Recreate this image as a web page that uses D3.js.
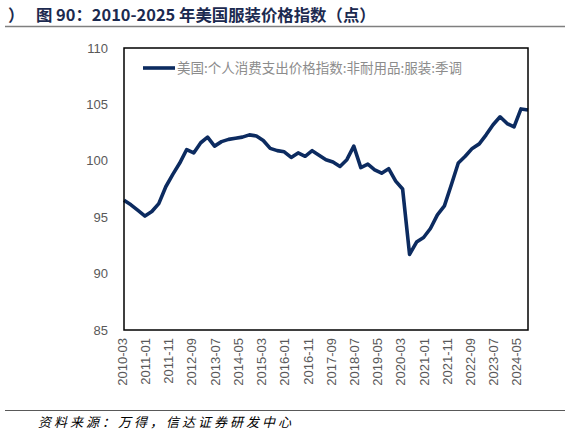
<!DOCTYPE html>
<html>
<head>
<meta charset="utf-8">
<script src="https://cdn.jsdelivr.net/npm/d3@7"></script>
<style>
  body { margin: 0; background: #fff; }
  svg { display: block; }
</style>
</head>
<body>
<div id="wrapper"></div>
<script>
// 1. data (quarterly)
const firstQuarter = "2010-03";
const lastQuarter = "2024-12";
const apparelIndex = [
  96.5, 96.1, 95.6, 95.1, 95.5, 96.2, 97.7, 98.8, 99.8, 101.0,
  100.7, 101.6, 102.1, 101.3, 101.7, 101.9, 102.0, 102.1, 102.3, 102.2,
  101.8, 101.1, 100.9, 100.8, 100.3, 100.7, 100.4, 100.9, 100.5, 100.1,
  99.9, 99.5, 100.1, 101.3, 99.4, 99.7, 99.2, 98.9, 99.3, 98.2,
  97.5, 91.7, 92.8, 93.2, 94.0, 95.2, 96.0, 97.9, 99.8, 100.4,
  101.1, 101.5, 102.3, 103.2, 103.9, 103.3, 103.0, 104.6, 104.5, 104.3
];
const xTickLabels = [
  "2010-03", "2011-01", "2011-11", "2012-09", "2013-07", "2014-05",
  "2015-03", "2016-01", "2016-11", "2017-09", "2018-07", "2019-05",
  "2020-03", "2021-01", "2021-11", "2022-09", "2023-07", "2024-05"
];
const yTicks = [85, 90, 95, 100, 105, 110];
const seriesName = "美国:个人消费支出价格指数:非耐用品:服装:季调";
const titleText = "图 90：2010-2025 年美国服装价格指数（点）";
const sourceText = "资料来源：万得，信达证券研发中心";

const parseMonth = d3.timeParse("%Y-%m");
const quarters = d3.timeMonth.every(3).range(parseMonth(firstQuarter), d3.timeMonth.offset(parseMonth(lastQuarter), 1));
const dataset = quarters.map((d, i) => ({ date: d, value: apparelIndex[i] }));

// 2. dimensions
const dimensions = {
  width: 570,
  height: 436,
  margin: { top: 48, right: 42, bottom: 106, left: 124 }
};
dimensions.boundedWidth = dimensions.width - dimensions.margin.left - dimensions.margin.right;
dimensions.boundedHeight = dimensions.height - dimensions.margin.top - dimensions.margin.bottom;

// 3. canvas
const wrapper = d3.select("#wrapper")
  .append("svg")
  .attr("width", dimensions.width)
  .attr("height", dimensions.height)
  .style("font-family", "'Liberation Sans', Arial, sans-serif");

// header
wrapper.append("text")
  .attr("x", 8).attr("y", 21)
  .attr("fill", "#1c2a50")
  .style("font-family", "'Noto Sans CJK SC', sans-serif")
  .style("font-size", "16.4px").style("font-weight", "bold")
  .text("）");
wrapper.append("text")
  .attr("x", 36).attr("y", 21)
  .attr("fill", "#1c2a50")
  .style("font-family", "'Noto Sans CJK SC', sans-serif")
  .style("font-size", "16.4px").style("font-weight", "bold")
  .text(titleText);
wrapper.append("line")
  .attr("x1", 5).attr("x2", 565)
  .attr("y1", 26.5).attr("y2", 26.5)
  .attr("stroke", "#7f7f7f").attr("stroke-width", 1.3);

const bounds = wrapper.append("g")
  .attr("transform", `translate(${dimensions.margin.left}, ${dimensions.margin.top})`);

// 4. scales
const xScale = d3.scaleTime()
  .domain(d3.extent(dataset, d => d.date))
  .range([0, dimensions.boundedWidth]);

const yScale = d3.scaleLinear()
  .domain([85, 110])
  .range([dimensions.boundedHeight, 0]);

// 5. axes (labels only, Excel-like)
const yAxis = bounds.append("g")
  .call(d3.axisLeft(yScale).tickValues(yTicks).tickSize(0).tickPadding(16))
  .call(g => g.select(".domain").remove());
yAxis.selectAll("text")
  .attr("fill", "#595959")
  .style("font-size", "13px")
  .style("font-family", "'Liberation Sans', Arial, sans-serif");

const xAxis = bounds.append("g")
  .attr("transform", `translate(0, ${dimensions.boundedHeight})`)
  .call(d3.axisBottom(xScale).tickValues(xTickLabels.map(parseMonth)).tickSize(0).tickFormat(d3.timeFormat("%Y-%m")))
  .call(g => g.select(".domain").remove());
xAxis.selectAll("text")
  .attr("fill", "#595959")
  .style("font-size", "13px")
  .style("font-family", "'Liberation Sans', Arial, sans-serif")
  .attr("transform", "rotate(-90)")
  .attr("text-anchor", "end")
  .attr("dy", "0.35em")
  .attr("x", -8)
  .attr("y", 0);

// 6. line
const lineGenerator = d3.line()
  .x(d => xScale(d.date))
  .y(d => yScale(d.value));

bounds.append("path")
  .datum(dataset)
  .attr("d", lineGenerator)
  .attr("fill", "none")
  .attr("stroke", "#0c2b60")
  .attr("stroke-width", 3.6)
  .attr("stroke-linejoin", "round");

// plot frame
bounds.append("rect")
  .attr("width", dimensions.boundedWidth)
  .attr("height", dimensions.boundedHeight)
  .attr("fill", "none")
  .attr("stroke", "#000")
  .attr("stroke-width", 1.5);

// legend
const legendGroup = bounds.append("g")
  .attr("transform", "translate(19, 20)");
legendGroup.append("line")
  .attr("x1", 0).attr("x2", 32)
  .attr("stroke", "#0c2b60").attr("stroke-width", 3.6);
legendGroup.append("text")
  .attr("x", 34).attr("dy", "0.36em")
  .attr("fill", "#8c8c8c")
  .style("font-family", "'Noto Sans CJK SC', sans-serif")
  .style("font-size", "13.5px")
  .text(seriesName);

// footer
wrapper.append("line")
  .attr("x1", 5).attr("x2", 565)
  .attr("y1", 410.5).attr("y2", 410.5)
  .attr("stroke", "#595959").attr("stroke-width", 1.2);
wrapper.append("text")
  .attr("x", 38).attr("y", 427)
  .attr("fill", "#000")
  .style("font-family", "'Noto Sans CJK SC', sans-serif")
  .style("font-size", "13px")
  .style("font-style", "italic")
  .style("letter-spacing", "3px")
  .text(sourceText);
</script>
</body>
</html>
